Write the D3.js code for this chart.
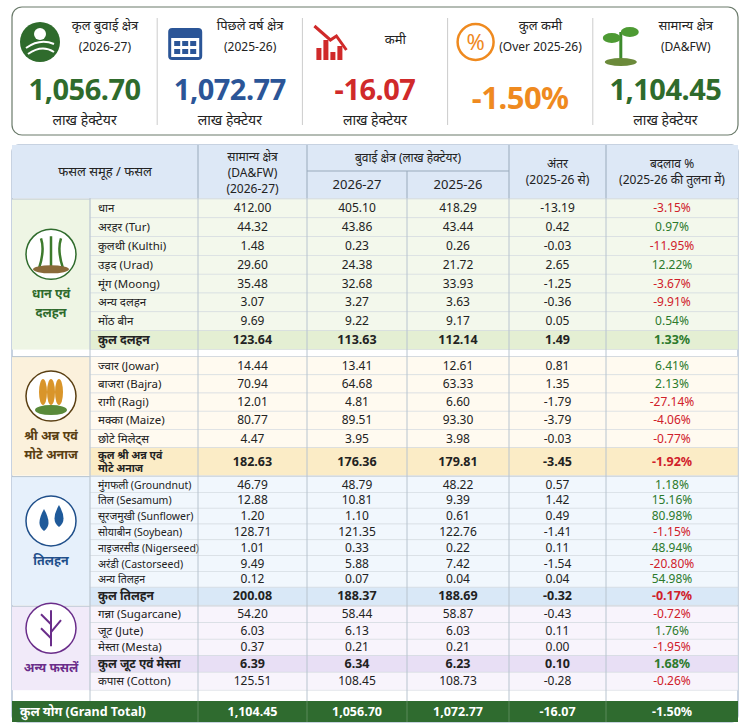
<!DOCTYPE html>
<html><head><meta charset="utf-8">
<script src="https://cdn.jsdelivr.net/npm/d3@7"></script>
<style>body{margin:0;background:#fff;font-family:"Noto Sans","Noto Sans Devanagari",sans-serif}</style>
</head><body><div id="chart"></div>
<script>
// card data
var cardTitles = [["कृल बुवाई क्षेत्र","(2026-27)"],["पिछले वर्ष क्षेत्र","(2025-26)"],["कमी",""],["कुल कमी","(Over 2025-26)"],["सामान्य क्षेत्र","(DA&FW)"]];
var cardValues = ["1,056.70","1,072.77","-16.07","-1.50%","1,104.45"];
var cardUnits = ["लाख हेक्टेयर","लाख हेक्टेयर","लाख हेक्टेयर","","लाख हेक्टेयर"];
var cardColors = ["#2f6b2c","#2b5597","#d02a2a","#ef8a1f","#2f6b2c"];

// table data
var groupNames = [["धान एवं","दलहन"],["श्री अन्न एवं","मोटे अनाज"],["तिलहन"],["अन्य फसलें"]];
var crops = [
 ["धान","अरहर (Tur)","कुलथी (Kulthi)","उड़द (Urad)","मूंग (Moong)","अन्य दलहन","मोंठ बीन","कुल दलहन"],
 ["ज्वार (Jowar)","बाजरा (Bajra)","रागी (Ragi)","मक्का (Maize)","छोटे मिलेट्स","कुल श्री अन्न एवं|मोटे अनाज"],
 ["मुंगफली (Groundnut)","तिल (Sesamum)","सूरजमुखी (Sunflower)","सोयाबीन (Soybean)","नाइजरसीड (Nigerseed)","अरंडी (Castorseed)","अन्य तिलहन","कुल तिलहन"],
 ["गन्ना (Sugarcane)","जूट (Jute)","मेस्ता (Mesta)","कुल जूट एवं मेस्ता","कपास (Cotton)"]
];
var normal = [[412.00,44.32,1.48,29.60,35.48,3.07,9.69,123.64],[14.44,70.94,12.01,80.77,4.47,182.63],[46.79,12.88,1.20,128.71,1.01,9.49,0.12,200.08],[54.20,6.03,0.37,6.39,125.51]];
var sown2026 = [[405.10,43.86,0.23,24.38,32.68,3.27,9.22,113.63],[13.41,64.68,4.81,89.51,3.95,176.36],[48.79,10.81,1.10,121.35,0.33,5.88,0.07,188.37],[58.44,6.13,0.21,6.34,108.45]];
var sown2025 = [[418.29,43.44,0.26,21.72,33.93,3.63,9.17,112.14],[12.61,63.33,6.60,93.30,3.98,179.81],[48.22,9.39,0.61,122.76,0.22,7.42,0.04,188.69],[58.87,6.03,0.21,6.23,108.73]];
var diff = [[-13.19,0.42,-0.03,2.65,-1.25,-0.36,0.05,1.49],[0.81,1.35,-1.79,-3.79,-0.03,-3.45],[0.57,1.42,0.49,-1.41,0.11,-1.54,0.04,-0.32],[-0.43,0.11,0.00,0.10,-0.28]];
var pct = [[-3.15,0.97,-11.95,12.22,-3.67,-9.91,0.54,1.33],[6.41,2.13,-27.14,-4.06,-0.77,-1.92],[1.18,15.16,80.98,-1.15,48.94,-20.80,54.98,-0.17],[-0.72,1.76,-1.95,1.68,-0.26]];
var totalIdx = [[7],[5],[7],[3]];
var grandTotal = ["कुल योग (Grand Total)",1104.45,1056.70,1072.77,-16.07,-1.50];

var W = 750, H = 725;
var svg = d3.select("#chart").append("svg").attr("width", W).attr("height", H);
var f2 = d3.format(",.2f");
var fmt = function(v){ return f2(v).replace("−","-"); };

// top cards
svg.append("rect").attr("x",12).attr("y",7).attr("width",726).attr("height",128).attr("rx",10)
  .attr("fill","#fff").attr("stroke","#6b7b6b").attr("stroke-width",1.2);
var cx = d3.scaleBand().domain(d3.range(5)).range([12,738]);
cardValues.forEach(function(v,i){
  var g = svg.append("g").attr("transform",`translate(${cx(i)},0)`);
  if (i>0) g.append("line").attr("x1",0).attr("x2",0).attr("y1",18).attr("y2",125).attr("stroke","#ccc");
  var bw = cx.bandwidth();
  g.append("text").attr("x",bw*0.64).attr("y",cardTitles[i][1]?30:44).attr("text-anchor","middle")
    .attr("font-size",13).attr("fill","#222").text(cardTitles[i][0]);
  g.append("text").attr("x",bw*0.64).attr("y",51).attr("text-anchor","middle")
    .attr("font-size",12).attr("fill","#222").text(cardTitles[i][1]);
  g.append("text").attr("x",bw/2).attr("y",i==3?109:100).attr("text-anchor","middle")
    .attr("font-size",i==3?31:29).attr("font-weight","bold").attr("letter-spacing",-0.5).attr("fill",cardColors[i]).text(v);
  g.append("text").attr("x",bw/2).attr("y",125).attr("text-anchor","middle")
    .attr("font-size",14).attr("fill","#222").text(cardUnits[i]);
  // icons
  var ic = g.append("g").attr("transform","translate(28,42)");
  if (i==0){ ic.append("circle").attr("r",20).attr("fill","#2f6b2c");
    ic.append("path").attr("d","M-14,6 Q0,-4 14,2 M-12,12 Q2,2 14,10").attr("stroke","#fff").attr("stroke-width",2).attr("fill","none");
    ic.append("circle").attr("cy",-8).attr("r",6).attr("fill","#fff"); }
  if (i==1){ ic.append("rect").attr("x",-17).attr("y",-14).attr("width",34).attr("height",32).attr("rx",4).attr("fill","#2b5597");
    ic.append("rect").attr("x",-14).attr("y",-4).attr("width",28).attr("height",19).attr("fill","#fff");
    for(var a=0;a<3;a++)for(var b=0;b<2;b++) ic.append("rect").attr("x",-11+a*8).attr("y",-1+b*8).attr("width",6).attr("height",5).attr("fill","#2b5597"); }
  if (i==2){ [12,20,8,14].forEach(function(h,k){ ic.append("rect").attr("x",-14+k*7).attr("y",18-h).attr("width",5).attr("height",h).attr("fill","#d02a2a");});
    ic.append("path").attr("d","M-16,-16 L0,-2 L6,-6 L16,8").attr("stroke","#d02a2a").attr("stroke-width",3).attr("fill","none"); }
  if (i==3){ ic.append("circle").attr("r",18).attr("fill","none").attr("stroke","#ef8a1f").attr("stroke-width",2.5);
    ic.append("text").attr("y",8).attr("text-anchor","middle").attr("font-size",22).attr("fill","#ef8a1f").text("%"); }
  if (i==4){ ic.append("path").attr("d","M0,18 L0,-10").attr("stroke","#3d8a2c").attr("stroke-width",3);
    ic.append("ellipse").attr("cx",-9).attr("cy",-4).attr("rx",9).attr("ry",5).attr("fill","#4d9a33");
    ic.append("ellipse").attr("cx",9).attr("cy",-10).attr("rx",9).attr("ry",5).attr("fill","#4d9a33");
    ic.append("ellipse").attr("cx",0).attr("cy",20).attr("rx",16).attr("ry",4).attr("fill","#6b8a3a"); }
});

// table
var colX = [12,90,198,307,407,509,606,738];
var tblTop = 145;
svg.append("rect").attr("x",12).attr("y",tblTop).attr("width",726).attr("height",577).attr("rx",6)
  .attr("fill","#fff").attr("stroke","#8fa5c2");
// header
svg.append("rect").attr("x",12).attr("y",tblTop).attr("width",726).attr("height",53).attr("fill","#dde8f6");
var hd = svg.append("g").attr("font-size",12).attr("fill","#222").attr("text-anchor","middle");
hd.append("text").attr("x",(colX[0]+colX[2])/2).attr("y",176).attr("font-size",13).text("फसल समूह / फसल");
hd.append("text").attr("x",(colX[2]+colX[3])/2).attr("y",161).text("सामान्य क्षेत्र");
hd.append("text").attr("x",(colX[2]+colX[3])/2).attr("y",177).text("(DA&FW)");
hd.append("text").attr("x",(colX[2]+colX[3])/2).attr("y",193).text("(2026-27)");
hd.append("text").attr("x",(colX[3]+colX[5])/2).attr("y",162).text("बुवाई क्षेत्र (लाख हेक्टेयर)");
hd.append("text").attr("x",(colX[3]+colX[4])/2).attr("y",189).attr("font-size",13).text("2026-27");
hd.append("text").attr("x",(colX[4]+colX[5])/2).attr("y",189).attr("font-size",13).text("2025-26");
hd.append("text").attr("x",(colX[5]+colX[6])/2).attr("y",168).text("अंतर");
hd.append("text").attr("x",(colX[5]+colX[6])/2).attr("y",184).text("(2025-26 से)");
hd.append("text").attr("x",(colX[6]+colX[7])/2).attr("y",168).text("बदलाव %");
hd.append("text").attr("x",(colX[6]+colX[7])/2).attr("y",184).text("(2025-26 की तुलना में)");
hd.append("line").attr("x1",colX[3]).attr("x2",colX[5]).attr("y1",171).attr("y2",171).attr("stroke","#9ab");
[2,3,5,6].forEach(function(c){ hd.append("line").attr("x1",colX[c]).attr("x2",colX[c]).attr("y1",tblTop).attr("y2",198).attr("stroke","#9ab"); });
hd.append("line").attr("x1",colX[4]).attr("x2",colX[4]).attr("y1",171).attr("y2",198).attr("stroke","#9ab");

var groupStyle = [
  {bg:"#f3f8ec",lab:"#eef5e4",tot:"#e4efd3",txt:"#2f6b2c",rowH:[18.8,18.8,18.8,18.8,18.8,18.8,18.8,19]},
  {bg:"#fffaf0",lab:"#fbf1dc",tot:"#fbecc6",txt:"#5a3f12",rowH:[18.2,18.2,18.2,18.2,18.2,28]},
  {bg:"#f1f7fd",lab:"#e6f0fb",tot:"#d9e8f7",txt:"#1f4f8a",rowH:[15.8,15.8,15.8,15.8,15.8,15.8,15.8,18]},
  {bg:"#f8f4fc",lab:"#f1eaf9",tot:"#e8dff5",txt:"#6a2d8a",rowH:[16.5,16.5,16.5,16.5,18]}
];
var groupGap = [1,8,2,2];
var y = 199;
crops.forEach(function(list,gi){
  var st = groupStyle[gi];
  y += groupGap[gi]-1;
  var gTop = y;
  var gH = d3.sum(st.rowH);
  svg.append("rect").attr("x",colX[0]).attr("y",gTop).attr("width",colX[1]-colX[0]).attr("height",gH).attr("fill",st.lab);
  svg.append("line").attr("x1",12).attr("x2",738).attr("y1",gTop).attr("y2",gTop).attr("stroke","#b8c4cf");
  // group icon and label
  var icx = (colX[0]+colX[1])/2, icy = gTop + gH/2 - 20;
  svg.append("circle").attr("cx",icx).attr("cy",icy).attr("r",25).attr("fill","#fff").attr("stroke",st.txt).attr("stroke-width",1.5);
  var ig = svg.append("g").attr("transform",`translate(${icx},${icy})`);
  if (gi==0){ ig.append("path").attr("d","M-12,14 Q-6,-4 -10,-16 M0,14 L0,-18 M12,14 Q6,-4 10,-16").attr("stroke","#3d7a2c").attr("stroke-width",2.5).attr("fill","none");
    ig.append("ellipse").attr("cy",15).attr("rx",18).attr("ry",4).attr("fill","#8a6a3a"); }
  if (gi==1){ [-8,0,8].forEach(function(dx){ ig.append("ellipse").attr("cx",dx).attr("cy",-4).attr("rx",4).attr("ry",13).attr("fill","#d9952a"); });
    ig.append("ellipse").attr("cy",14).attr("rx",16).attr("ry",5).attr("fill","#5a8a3a"); }
  if (gi==2){ [[-7,2],[8,-2]].forEach(function(p){ ig.append("path").attr("d",`M${p[0]},${p[1]-14} Q${p[0]+9},${p[1]+2} ${p[0]},${p[1]+8} Q${p[0]-9},${p[1]+2} ${p[0]},${p[1]-14}Z`).attr("fill","#1f5a9a"); }); }
  if (gi==3){ ig.append("path").attr("d","M0,18 L0,-18 M0,-4 L-10,-14 M0,4 L10,-8 M0,10 L-10,0").attr("stroke","#6a2d8a").attr("stroke-width",2).attr("fill","none"); }
  var gl = groupNames[gi];
  gl.forEach(function(t,k){
    svg.append("text").attr("x",icx).attr("y",icy+44+k*19).attr("text-anchor","middle")
      .attr("font-size",12.5).attr("font-weight","bold").attr("fill",st.txt).text(t);
  });
  list.forEach(function(name,ri){
    var h = st.rowH[ri];
    var isTot = totalIdx[gi].indexOf(ri) >= 0;
    svg.append("rect").attr("x",colX[1]).attr("y",y).attr("width",colX[7]-colX[1]).attr("height",h)
      .attr("fill",isTot?st.tot:st.bg).attr("stroke","#d3dae0").attr("stroke-width",0.6);
    var my = y + h/2 + 4;
    var fs = gi==2 && !isTot ? 10.5 : 11.5;
    var fw = isTot ? "bold" : "normal";
    var parts = name.split("|");
    parts.forEach(function(p,k){
      svg.append("text").attr("x",colX[1]+8).attr("y",my + (k - (parts.length-1)/2)*13)
        .attr("font-size",isTot?(parts.length>1?10.5:12):fs).attr("font-weight",fw).attr("fill","#222").text(p);
    });
    var vals = [normal[gi][ri],sown2026[gi][ri],sown2025[gi][ri],diff[gi][ri]];
    vals.forEach(function(v,c){
      svg.append("text").attr("x",(colX[c+2]+colX[c+3])/2).attr("y",my).attr("text-anchor","middle")
        .attr("font-size",isTot?12.5:12).attr("font-weight",fw).attr("fill","#222").text(fmt(v));
    });
    var p = pct[gi][ri];
    svg.append("text").attr("x",(colX[6]+colX[7])/2).attr("y",my).attr("text-anchor","middle")
      .attr("font-size",isTot?12.5:12).attr("font-weight",fw).attr("fill",p<0?"#d0202a":"#2c7a2c").text(fmt(p)+"%");
    y += h;
  });
});
[1,2,3,4,5,6].forEach(function(c){ svg.append("line").attr("x1",colX[c]).attr("x2",colX[c]).attr("y1",198).attr("y2",701).attr("stroke","#b8c4cf"); });

// grand total
var gy = 701;
svg.append("rect").attr("x",12).attr("y",gy).attr("width",726).attr("height",21).attr("fill","#2f6b2f");
svg.append("text").attr("x",20).attr("y",gy+15).attr("font-size",12.5).attr("font-weight","bold").attr("fill","#fff").text(grandTotal[0]);
grandTotal.slice(1).forEach(function(v,c){
  svg.append("text").attr("x",(colX[c+2]+colX[c+3])/2).attr("y",gy+15).attr("text-anchor","middle")
    .attr("font-size",12.5).attr("font-weight","bold").attr("fill","#fff").text(fmt(v)+(c==4?"%":""));
});
[2,3,4,5,6].forEach(function(c){ svg.append("line").attr("x1",colX[c]).attr("x2",colX[c]).attr("y1",gy).attr("y2",gy+21).attr("stroke","#5a8a5a"); });
</script></body></html>
